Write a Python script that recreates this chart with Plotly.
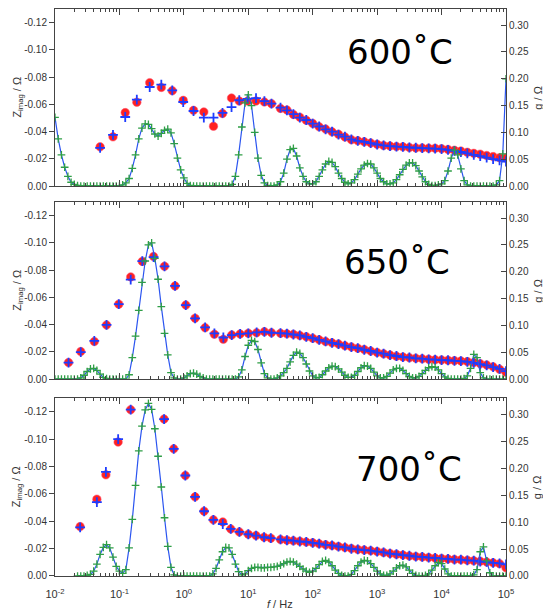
import numpy as np
import plotly.graph_objects as go

# ---------------------------------------------------------------------------
# Impedance spectra (imaginary part) and distribution of relaxation times g
# at three temperatures. Frequencies are stored as log10(f / Hz).
# ---------------------------------------------------------------------------

TEMPERATURES = ["600˚C", "650˚C", "700˚C"]

# common high-frequency measurement points, log10(f / Hz)
HF_LOGF = [1.5, 1.6, 1.7, 1.8, 1.9, 2.0, 2.1, 2.2, 2.3, 2.4,
           2.5, 2.6, 2.7, 2.8, 2.9, 3.0, 3.1, 3.2, 3.3, 3.4,
           3.5, 3.6, 3.7, 3.8, 3.9, 4.0, 4.1, 4.2, 4.3, 4.4,
           4.5, 4.6, 4.7, 4.8, 4.9, 5.0]

# ---- 600 C ----
LF_LOGF_600 = [-1.30, -1.10, -0.91, -0.73, -0.53, -0.35, -0.18, -0.01, 0.15, 0.31,
               0.46, 0.60, 0.74, 0.86, 0.99, 1.12, 1.25, 1.36]
ZMEAS_600 = [-0.0288, -0.0361, -0.0539, -0.0615, -0.0759, -0.0724, -0.0700, -0.0629, -0.0556, -0.0544,
             -0.0439, -0.0532, -0.0646, -0.0624, -0.0624, -0.0624, -0.0617, -0.0605,
             -0.0570, -0.0558, -0.0525, -0.0505, -0.0483, -0.0460, -0.0435, -0.0418, -0.0398, -0.0380,
             -0.0360, -0.0340, -0.0333, -0.0325, -0.0316, -0.0306, -0.0298, -0.0294, -0.0290, -0.0288,
             -0.0283, -0.0280, -0.0280, -0.0278, -0.0277, -0.0274, -0.0269, -0.0263, -0.0257, -0.0248,
             -0.0240, -0.0234, -0.0224, -0.0216, -0.0208, -0.0205]
ZFIT_600 = [-0.0280, -0.0375, -0.0507, -0.0634, -0.0727, -0.0744, -0.0702, -0.0617, -0.0551, -0.0503,
            -0.0503, -0.0537, -0.0580, -0.0630, -0.0640, -0.0645, -0.0624, -0.0605,
            -0.0575, -0.0555, -0.0528, -0.0503, -0.0485, -0.0458, -0.0437, -0.0416, -0.0400, -0.0378,
            -0.0362, -0.0342, -0.0331, -0.0324, -0.0315, -0.0305, -0.0298, -0.0293, -0.0289, -0.0287,
            -0.0283, -0.0281, -0.0279, -0.0277, -0.0275, -0.0271, -0.0265, -0.0258, -0.0250, -0.0240,
            -0.0228, -0.0220, -0.0208, -0.0198, -0.0188, -0.0180]

# ---- 650 C ----
LF_LOGF_650 = [-1.79, -1.60, -1.39, -1.20, -1.01, -0.825, -0.645, -0.47, -0.30, -0.137,
               0.03, 0.174, 0.33, 0.474, 0.613, 0.743, 0.873, 1.0, 1.13, 1.25, 1.36]
ZMEAS_650 = [-0.0121, -0.0202, -0.0275, -0.0397, -0.0550, -0.0750, -0.0864, -0.0900, -0.0828, -0.0684,
             -0.0543, -0.0446, -0.0377, -0.0329, -0.0292, -0.0324, -0.0331, -0.0336, -0.0340, -0.0348,
             -0.0340,
             -0.0336, -0.0332, -0.0328, -0.0320, -0.0311, -0.0300, -0.0288, -0.0276, -0.0266, -0.0257,
             -0.0245, -0.0236, -0.0226, -0.0216, -0.0205, -0.0195, -0.0185, -0.0176, -0.0168, -0.0162,
             -0.0157, -0.0153, -0.0149, -0.0145, -0.0142, -0.0140, -0.0137, -0.0135, -0.0133, -0.0128,
             -0.0121, -0.0113, -0.0103, -0.0090, -0.0072, -0.0050]
ZFIT_650 = [-0.0121, -0.0198, -0.0280, -0.0397, -0.0550, -0.0730, -0.0866, -0.0895, -0.0828, -0.0684,
            -0.0543, -0.0446, -0.0380, -0.0335, -0.0305, -0.0322, -0.0331, -0.0336, -0.0342, -0.0346,
            -0.0340,
            -0.0337, -0.0333, -0.0327, -0.0321, -0.0310, -0.0301, -0.0287, -0.0277, -0.0265, -0.0256,
            -0.0246, -0.0235, -0.0227, -0.0215, -0.0206, -0.0194, -0.0186, -0.0175, -0.0169, -0.0161,
            -0.0158, -0.0152, -0.0150, -0.0144, -0.0143, -0.0139, -0.0138, -0.0134, -0.0131, -0.0126,
            -0.0118, -0.0110, -0.0100, -0.0088, -0.0074, -0.0058]

# ---- 700 C ----
LF_LOGF_700 = [-1.61, -1.35, -1.21, -1.02, -0.825, -0.307, -0.157, 0.023, 0.174, 0.314,
               0.458, 0.604, 0.728, 0.862, 1.0, 1.12, 1.245, 1.35]
ZMEAS_700 = [-0.0361, -0.0561, -0.0739, -0.0978, -0.1215, -0.1146, -0.0929, -0.0734, -0.0578, -0.0473,
             -0.0410, -0.0395, -0.0344, -0.0322, -0.0305, -0.0295, -0.0283, -0.0276,
             -0.0266, -0.0262, -0.0257, -0.0253, -0.0248, -0.0243, -0.0235, -0.0228, -0.0222, -0.0215,
             -0.0208, -0.0200, -0.0194, -0.0190, -0.0185, -0.0179, -0.0172, -0.0165, -0.0158, -0.0153,
             -0.0147, -0.0143, -0.0139, -0.0135, -0.0131, -0.0128, -0.0124, -0.0121, -0.0118, -0.0115,
             -0.0111, -0.0107, -0.0102, -0.0097, -0.0090, -0.0060]
ZFIT_700 = [-0.0355, -0.0540, -0.0760, -0.1000, -0.1215, -0.1146, -0.0929, -0.0734, -0.0578, -0.0473,
            -0.0410, -0.0380, -0.0344, -0.0322, -0.0305, -0.0295, -0.0283, -0.0276,
            -0.0267, -0.0261, -0.0258, -0.0252, -0.0249, -0.0242, -0.0236, -0.0227, -0.0223, -0.0214,
            -0.0209, -0.0199, -0.0195, -0.0189, -0.0186, -0.0178, -0.0173, -0.0164, -0.0159, -0.0152,
            -0.0148, -0.0142, -0.0140, -0.0134, -0.0132, -0.0127, -0.0125, -0.0120, -0.0119, -0.0114,
            -0.0112, -0.0106, -0.0103, -0.0096, -0.0092, -0.0085]

# ---- distribution of relaxation times g / Ohm on a grid from 10^-2 to 10^5 Hz,
#      20 points per decade; each row below covers half a decade ----
G_LOGF_START = -2.0
G_LOGF_STEP = 0.05

G_600 = [0.128, 0.088, 0.058, 0.035, 0.018, 0.007, 0.003, 0.001, 0.000, 0.000,
         0.000, 0.000, 0.000, 0.000, 0.000, 0.000, 0.000, 0.000, 0.000, 0.000,
         0.000, 0.002, 0.006, 0.014, 0.033, 0.058, 0.088, 0.108, 0.116, 0.115,
         0.107, 0.097, 0.093, 0.098, 0.104, 0.106, 0.099, 0.079, 0.052, 0.030,
         0.015, 0.005, 0.001, 0.000, 0.000, 0.000, 0.000, 0.000, 0.000, 0.000,
         0.000, 0.000, 0.000, 0.000, 0.000, 0.003, 0.018, 0.058, 0.110, 0.155,
         0.170, 0.150, 0.100, 0.052, 0.020, 0.006, 0.001, 0.000, 0.000, 0.002,
         0.008, 0.024, 0.050, 0.068, 0.070, 0.056, 0.034, 0.018, 0.008, 0.004,
         0.004, 0.008, 0.018, 0.030, 0.041, 0.046, 0.044, 0.036, 0.024, 0.014,
         0.007, 0.004, 0.006, 0.012, 0.022, 0.032, 0.039, 0.042, 0.041, 0.034,
         0.024, 0.014, 0.008, 0.004, 0.004, 0.006, 0.012, 0.021, 0.031, 0.039,
         0.043, 0.043, 0.038, 0.028, 0.017, 0.008, 0.003, 0.001, 0.001, 0.002,
         0.004, 0.010, 0.028, 0.052, 0.067, 0.058, 0.032, 0.010, 0.002, 0.000,
         0.000, 0.000, 0.000, 0.000, 0.000, 0.000, 0.000, 0.002, 0.010, 0.060,
         0.200]

G_650 = [0.000, 0.000, 0.000, 0.000, 0.000, 0.000, 0.000, 0.000, 0.002, 0.007,
         0.014, 0.019, 0.020, 0.016, 0.009, 0.003, 0.001, 0.000, 0.000, 0.000,
         0.000, 0.000, 0.000, 0.008, 0.040, 0.080, 0.128, 0.180, 0.220, 0.250,
         0.254, 0.225, 0.186, 0.135, 0.085, 0.045, 0.012, 0.002, 0.000, 0.000,
         0.002, 0.006, 0.010, 0.011, 0.009, 0.005, 0.002, 0.000, 0.000, 0.000,
         0.000, 0.000, 0.000, 0.000, 0.000, 0.000, 0.000, 0.004, 0.017, 0.042,
         0.063, 0.072, 0.070, 0.055, 0.030, 0.010, 0.002, 0.000, 0.000, 0.002,
         0.006, 0.012, 0.020, 0.032, 0.044, 0.050, 0.048, 0.040, 0.028, 0.015,
         0.006, 0.002, 0.003, 0.008, 0.015, 0.021, 0.024, 0.023, 0.019, 0.013,
         0.007, 0.003, 0.003, 0.007, 0.014, 0.021, 0.025, 0.024, 0.020, 0.013,
         0.006, 0.002, 0.002, 0.005, 0.011, 0.017, 0.020, 0.020, 0.016, 0.010,
         0.005, 0.002, 0.002, 0.005, 0.010, 0.016, 0.021, 0.023, 0.022, 0.017,
         0.010, 0.004, 0.001, 0.000, 0.000, 0.000, 0.000, 0.001, 0.006, 0.020,
         0.046, 0.040, 0.012, 0.002, 0.000, 0.000, 0.000, 0.000, 0.000, 0.000,
         0.000]

G_700 = [None, None, None, None, None, None, None, 0.000, 0.000, 0.000,
         0.001, 0.003, 0.009, 0.022, 0.040, 0.053, 0.058, 0.052, 0.035, 0.018,
         0.009, 0.005, 0.012, 0.052, 0.105, 0.168, 0.232, 0.278, 0.308, 0.320,
         0.309, 0.273, 0.222, 0.165, 0.108, 0.055, 0.016, 0.002, 0.000, 0.000,
         0.000, 0.000, 0.000, 0.000, 0.000, 0.000, 0.000, 0.000, 0.000, 0.004,
         0.014, 0.030, 0.045, 0.053, 0.052, 0.040, 0.022, 0.008, 0.002, 0.004,
         0.010, 0.014, 0.016, 0.016, 0.015, 0.015, 0.016, 0.016, 0.017, 0.018,
         0.020, 0.023, 0.026, 0.027, 0.026, 0.022, 0.018, 0.013, 0.009, 0.007,
         0.009, 0.014, 0.021, 0.027, 0.029, 0.026, 0.019, 0.011, 0.005, 0.001,
         0.000, 0.000, 0.003, 0.010, 0.019, 0.026, 0.029, 0.028, 0.023, 0.016,
         0.009, 0.004, 0.001, 0.001, 0.004, 0.009, 0.015, 0.019, 0.020, 0.017,
         0.011, 0.005, 0.001, 0.000, 0.000, 0.001, 0.004, 0.011, 0.019, 0.025,
         0.023, 0.013, 0.004, 0.000, 0.000, 0.000, 0.000, 0.000, 0.000, 0.000,
         0.002, 0.012, 0.045, 0.054, 0.028, 0.006, 0.000, 0.000, 0.000, 0.000,
         0.000]

# axis ticks
X_TICK_EXP = [-2, -1, 0, 1, 2, 3, 4, 5]
X_TICK_TEXT = ["10<sup>-2</sup>", "10<sup>-1</sup>", "10<sup>0</sup>", "10<sup>1</sup>",
               "10<sup>2</sup>", "10<sup>3</sup>", "10<sup>4</sup>", "10<sup>5</sup>"]
Z_TICKS = [0.0, -0.02, -0.04, -0.06, -0.08, -0.10, -0.12]
Z_TICK_TEXT = ["0.00", "-0.02", "-0.04", "-0.06", "-0.08", "-0.10", "-0.12"]
G_TICKS = [0.0, 0.05, 0.10, 0.15, 0.20, 0.25, 0.30]
G_TICK_TEXT = ["0.00", "0.05", "0.10", "0.15", "0.20", "0.25", "0.30"]

# ---------------------------------------------------------------------------
panels = [
    (LF_LOGF_600, ZMEAS_600, ZFIT_600, G_600),
    (LF_LOGF_650, ZMEAS_650, ZFIT_650, G_650),
    (LF_LOGF_700, ZMEAS_700, ZFIT_700, G_700),
]
# vertical extent of the three stacked panels (paper coordinates)
DOMAINS = [[0.6878, 1.0], [0.3474, 0.6596], [0.0, 0.3139]]

RED = "#ff2222"
BLUE = "#1e3cff"
GREEN = "#2f9e46"
LINE_BLUE = "#2b55f0"
AXIS = "#444444"
TICKFONT = dict(family="Liberation Sans, Arial, sans-serif", size=10, color="#333333")

fig = go.Figure()

minor_vals = [m * 10.0 ** k for k in range(-2, 5) for m in range(2, 10)]

for i, (lf, zmeas, zfit, g) in enumerate(panels):
    logf = list(lf) + HF_LOGF
    assert len(logf) == len(zmeas) == len(zfit), i
    f = [10.0 ** v for v in logf]
    g_logf = np.round(G_LOGF_START + G_LOGF_STEP * np.arange(len(g)), 3)
    assert abs(g_logf[-1] - 5.0) < 1e-6, (i, len(g))
    g_f = 10.0 ** g_logf

    xref = "x" if i == 0 else f"x{i + 1}"
    yz = "y" if i == 0 else f"y{2 * i + 1}"
    yg = f"y{2 * i + 2}"

    # measured imaginary impedance
    fig.add_trace(go.Scatter(
        x=f, y=zmeas, mode="markers", xaxis=xref, yaxis=yz,
        marker=dict(symbol="circle", size=8.5, color=RED,
                    line=dict(width=1, color="rgba(255,90,120,0.55)")),
        showlegend=False, hoverinfo="skip"))
    # fitted imaginary impedance
    fig.add_trace(go.Scatter(
        x=f, y=zfit, mode="markers", xaxis=xref, yaxis=yz,
        marker=dict(symbol="cross-thin", size=7, color=BLUE,
                    line=dict(width=1.8, color=BLUE)),
        showlegend=False, hoverinfo="skip"))
    # distribution of relaxation times
    fig.add_trace(go.Scatter(
        x=g_f, y=g, mode="lines+markers", xaxis=xref, yaxis=yg,
        line=dict(color=LINE_BLUE, width=1.2),
        marker=dict(symbol="cross-thin", size=5.5, color=GREEN,
                    line=dict(width=1.3, color=GREEN)),
        connectgaps=False, showlegend=False, hoverinfo="skip"))

    xkey = "xaxis" if i == 0 else f"xaxis{i + 1}"
    yzkey = "yaxis" if i == 0 else f"yaxis{2 * i + 1}"
    ygkey = f"yaxis{2 * i + 2}"

    fig.layout[xkey] = dict(
        type="log", range=[-2, 5], domain=[0, 1], anchor=yz,
        showline=True, linecolor=AXIS, linewidth=1, mirror="ticks",
        ticks="inside", ticklen=6, tickcolor=AXIS, tickwidth=1,
        tickmode="array", tickvals=[10.0 ** k for k in X_TICK_EXP], ticktext=X_TICK_TEXT,
        showticklabels=(i == 2), tickfont=dict(TICKFONT, size=11),
        ticklabelstandoff=8,
        minor=dict(ticks="inside", ticklen=3, tickcolor=AXIS, tickmode="array",
                   tickvals=minor_vals, showgrid=False),
        showgrid=False, zeroline=False)
    fig.layout[yzkey] = dict(
        domain=DOMAINS[i], anchor=xref, range=[0, -0.13],
        showline=True, linecolor=AXIS, linewidth=1,
        ticks="outside", ticklen=5, tickcolor=AXIS,
        tickmode="array", tickvals=Z_TICKS, ticktext=Z_TICK_TEXT, tickfont=TICKFONT,
        showgrid=False, zeroline=False)
    fig.layout[ygkey] = dict(
        overlaying=yz, side="right", anchor=xref, range=[0, 0.33],
        showline=True, linecolor=AXIS, linewidth=1,
        ticks="inside", ticklen=5, tickcolor=AXIS,
        tickmode="array", tickvals=G_TICKS, ticktext=G_TICK_TEXT, tickfont=TICKFONT,
        showgrid=False, zeroline=False)

# text labels
TEMP_POS = [(0.765, 0.924), (0.758, 0.554), (0.785, 0.1887)]
annotations = []
for (tx, ty), label in zip(TEMP_POS, TEMPERATURES):
    annotations.append(dict(
        x=tx, y=ty, xref="paper", yref="paper", text=label, showarrow=False,
        xanchor="center", yanchor="middle",
        font=dict(family="DejaVu Sans", size=34, color="#000000")))
for lo, hi in DOMAINS:
    mid = (lo + hi) / 2
    annotations.append(dict(
        x=-0.084, y=mid, xref="paper", yref="paper", showarrow=False,
        text="Z<sub>imag</sub> / Ω", textangle=-90, xanchor="center", yanchor="middle",
        font=dict(family="Liberation Sans, Arial, sans-serif", size=11, color="#333333")))
    annotations.append(dict(
        x=1.069, y=mid, xref="paper", yref="paper", showarrow=False,
        text="g / Ω", textangle=-90, xanchor="center", yanchor="middle",
        font=dict(family="Liberation Sans, Arial, sans-serif", size=11, color="#333333")))
annotations.append(dict(
    x=0.499, y=-0.049, xref="paper", yref="paper", showarrow=False,
    text="<i>f</i> / Hz", xanchor="center", yanchor="middle",
    font=dict(family="Liberation Sans, Arial, sans-serif", size=11, color="#333333")))

fig.update_layout(
    width=543, height=610,
    margin=dict(l=55, r=37, t=9, b=34),
    paper_bgcolor="white", plot_bgcolor="white",
    showlegend=False,
    annotations=annotations,
)

fig.write_html("out.html")
